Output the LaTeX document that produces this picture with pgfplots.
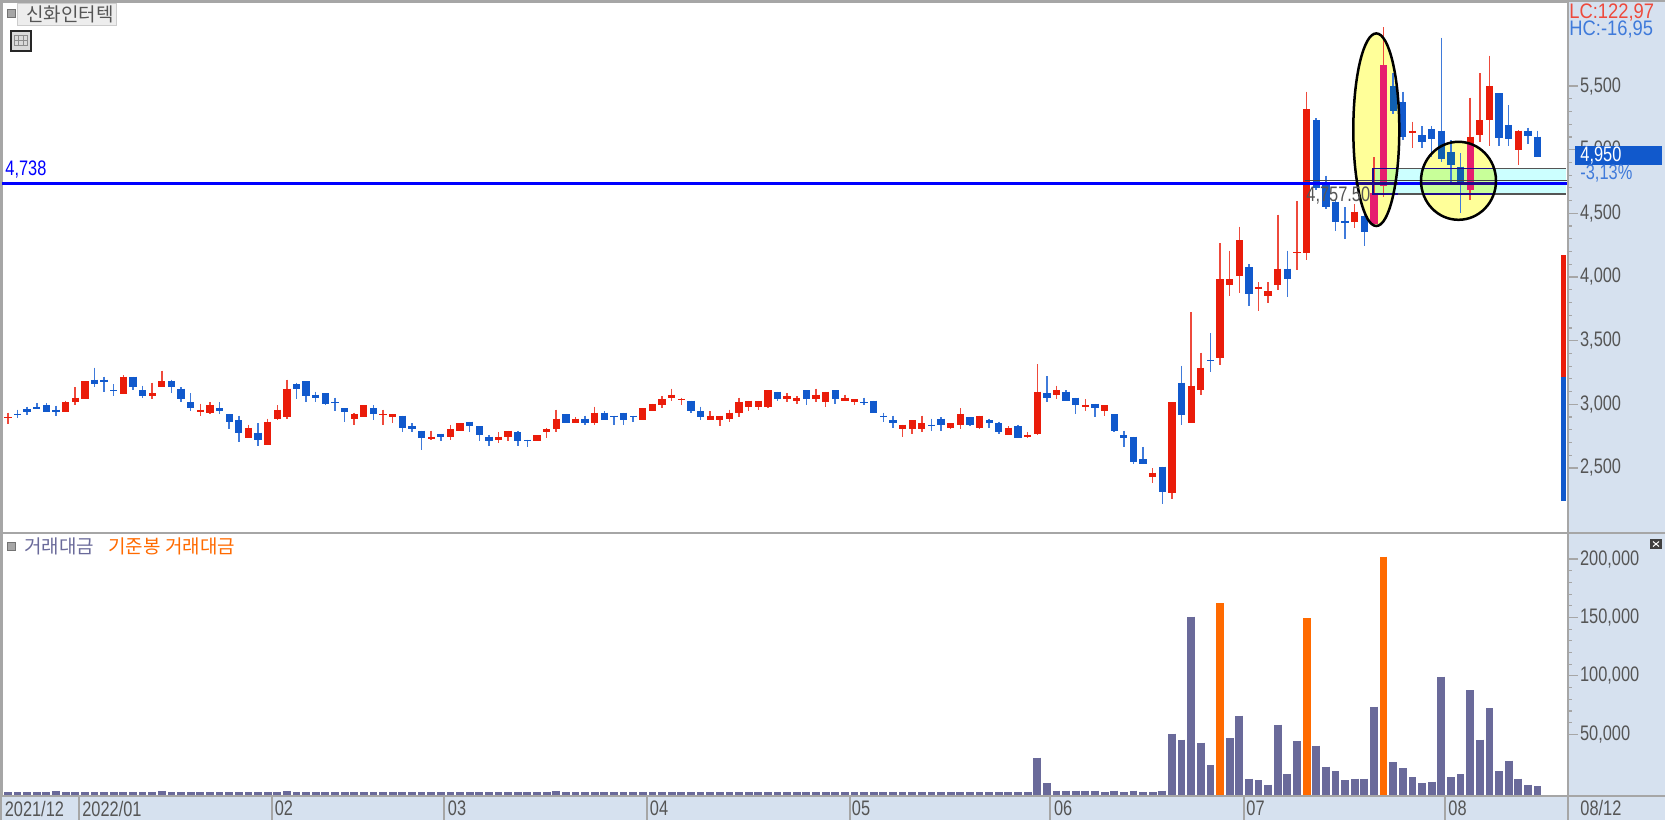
\documentclass[border=0pt]{standalone}
\usepackage{fontspec}
\usepackage{pgfplots}
\usepackage{pgfplotstable}
\pgfplotsset{compat=1.18}
\setmainfont[FakeStretch=0.78]{Liberation Sans}
\newfontfamily\cjk{Noto Sans CJK KR}
\definecolor{panel}{HTML}{D6E1EF}
\definecolor{frame}{HTML}{A6A6A6}
\definecolor{lab}{HTML}{555555}
\definecolor{cred}{HTML}{EA1C0A}
\definecolor{cblue}{HTML}{1159CC}
\definecolor{wred}{HTML}{EE4A3C}
\definecolor{wblue}{HTML}{3F7ADA}
\definecolor{cpink}{HTML}{E61E6E}
\definecolor{cteal}{HTML}{1060B0}
\definecolor{vpur}{HTML}{6A6A9A}
\definecolor{vora}{HTML}{FF6A00}
\definecolor{navy}{HTML}{1E0A8C}
\definecolor{bandc}{HTML}{CCFFFF}
\definecolor{marky}{HTML}{FFFF99}
\definecolor{markg}{HTML}{C8FF99}
\pgfplotstableread{
n hi top bot lo
1 2934 2898 2890 2843
7 3029 3015 2937 2937
8 3133 3052 3015 2994
9 3180 3180 3042 3042
13 3230 3217 3078 3078
16 3170 3086 3068 3042
17 3264 3180 3136 3136
21 3005 2958 2937 2911
22 3018 2992 2934 2924
26 2840 2814 2735 2735
28 2887 2864 2683 2678
29 2992 2958 2887 2877
30 3193 3123 2898 2887
37 2934 2921 2887 2840
38 2992 2992 2898 2898
40 2958 2921 2916 2840
41 2924 2921 2900 2853
45 2793 2746 2725 2722
47 2840 2803 2746 2722
48 2850 2850 2793 2793
52 2780 2746 2722 2699
53 2793 2793 2746 2712
56 2756 2756 2712 2712
57 2816 2803 2782 2735
58 2958 2887 2803 2782
60 2898 2887 2850 2850
62 2981 2934 2850 2840
67 2968 2968 2874 2874
68 3005 3005 2947 2947
69 3063 3039 2992 2968
70 3123 3076 3052 3029
71 3052 3042 3031 2992
74 2947 2911 2874 2874
75 2911 2911 2874 2827
76 2958 2934 2887 2864
77 3052 3015 2934 2898
78 3029 3029 2981 2947
79 3029 3029 2981 2958
80 3110 3110 2981 2968
82 3086 3065 3039 3015
83 3065 3052 3029 3005
85 3123 3076 3039 3015
86 3099 3099 3015 2981
88 3076 3052 3029 3029
89 3039 3039 3015 2992
94 2840 2840 2806 2746
95 2874 2874 2806 2769
96 2911 2850 2803 2780
99 2850 2850 2817 2803
100 2968 2921 2840 2803
102 2911 2911 2817 2803
105 2827 2817 2756 2756
107 2780 2759 2746 2735
108 3314 3099 2769 2756
110 3146 3110 3076 3039
113 3039 2992 2981 2945
115 2994 2994 2947 2911
120 2497 2463 2429 2382
122 3018 3018 2301 2254
124 3722 3146 2853 2853
125 3405 3288 3112 3076
127 4264 3981 3361 3311
128 4207 3981 3937 3853
129 4395 4288 4008 3877
131 3958 3924 3903 3735
132 3958 3887 3853 3796
133 4489 4065 3937 3900
135 4597 4196 4186 4055
136 5456 5317 4186 4133
141 4573 4513 4435 4385
143 4940 4660 4416 4416
144 5961 5665 4717 4626
147 5220 5147 5131 5010
153 5408 5102 4683 4605
154 5600 5233 5115 5063
155 5738 5500 5233 5031
158 5154 5149 5000 4880
}\redtable
\pgfplotstableread{
n hi top bot lo
2 2958 2926 2916 2890
3 2981 2960 2940 2913
4 3008 2981 2960 2960
5 3008 2992 2937 2937
6 2989 2958 2937 2911
10 3288 3193 3157 3133
11 3217 3193 3175 3099
12 3157 3112 3102 3068
14 3217 3217 3136 3112
15 3146 3110 3065 3052
18 3193 3180 3136 3086
19 3133 3123 3042 3015
20 3086 3015 2968 2945
23 3018 2968 2947 2924
24 2924 2921 2864 2806
25 2911 2874 2772 2701
27 2850 2777 2722 2675
31 3170 3157 3123 3042
32 3180 3180 3065 3015
33 3099 3076 3052 3015
34 3086 3086 3005 2992
35 3052 3018 3013 2945
36 2968 2968 2937 2864
39 2992 2968 2924 2874
42 2911 2911 2817 2782
43 2850 2830 2803 2780
44 2793 2793 2735 2641
46 2769 2769 2746 2712
49 2864 2864 2827 2780
50 2827 2827 2759 2712
51 2759 2746 2712 2675
54 2793 2780 2712 2675
55 2722 2722 2717 2665
59 2924 2921 2850 2850
61 2911 2887 2850 2840
63 2947 2934 2874 2874
64 2911 2911 2903 2840
65 2934 2934 2874 2840
66 2911 2911 2903 2864
72 3029 3029 2947 2934
73 2981 2945 2898 2874
81 3099 3099 3039 3029
84 3110 3110 3039 2992
87 3110 3110 3039 3005
90 3052 3018 3008 2992
91 3029 3029 2934 2934
92 2934 2911 2898 2864
93 2911 2874 2853 2816
97 2887 2840 2830 2793
98 2898 2887 2840 2793
101 2898 2898 2840 2827
103 2887 2874 2853 2817
104 2864 2850 2780 2769
106 2840 2827 2735 2735
109 3220 3086 3052 3015
111 3110 3099 3029 3029
112 3052 3052 2992 2921
114 3005 3005 2968 2898
116 2921 2921 2793 2782
117 2793 2756 2738 2665
118 2746 2746 2547 2534
119 2665 2568 2534 2534
121 2510 2510 2311 2217
123 3301 3170 2913 2840
126 3557 3348 3337 3254
130 4099 4076 3866 3772
134 4207 4065 3984 3843
137 5246 5233 4696 4683
138 4796 4723 4552 4531
139 4605 4592 4435 4364
140 4547 4442 4427 4301
142 4500 4479 4353 4243
145 5605 5500 5306 5280
146 5456 5372 5102 5076
148 5186 5115 5060 5010
149 5186 5160 5084 4945
150 5880 5149 4924 4906
151 5076 4982 4880 4749
152 4971 4866 4723 4505
156 5443 5443 5094 5031
157 5351 5194 5084 5031
159 5173 5149 5107 5044
160 5149 5102 4942 4940
}\bluetable
% bodies as they look under the yellow marks
\pgfplotstableread{
n top bot
143 4660 4416
144 5665 4717
153 5055 4683
}\pinktable
\pgfplotstableread{
n top bot
145 5500 5306
150 5044 4924
151 4982 4880
152 4866 4723
}\tealtable
\pgfplotstableread[row sep=\\]{
n v\\
1 200\\2 200\\3 200\\4 200\\5 200\\6 1500\\7 200\\8 200\\9 200\\10 200\\
11 200\\12 200\\13 200\\14 200\\15 200\\16 200\\17 1500\\18 200\\19 200\\20 200\\
21 200\\22 200\\23 200\\24 200\\25 200\\26 200\\27 200\\28 200\\29 200\\30 1500\\
31 200\\32 200\\33 200\\34 200\\35 200\\36 200\\37 200\\38 200\\39 200\\40 200\\
41 200\\42 200\\43 200\\44 200\\45 200\\46 200\\47 200\\48 200\\49 200\\50 200\\
51 200\\52 200\\53 200\\54 200\\55 200\\56 200\\57 200\\58 1500\\59 200\\60 200\\
61 200\\62 200\\63 200\\64 200\\65 200\\66 200\\67 200\\68 200\\69 200\\70 200\\
71 200\\72 200\\73 200\\74 200\\75 200\\76 200\\77 200\\78 200\\79 200\\80 200\\
81 200\\82 200\\83 200\\84 200\\85 200\\86 200\\87 200\\88 200\\89 200\\90 200\\
91 200\\92 200\\93 200\\94 200\\95 200\\96 200\\97 200\\98 200\\99 200\\100 200\\
101 200\\102 200\\103 200\\104 200\\105 200\\106 200\\107 200\\
108 30000\\109 8040\\110 1760\\111 1760\\112 1760\\113 1760\\114 1760\\115 340\\116 1760\\117 340\\
118 1760\\119 340\\120 340\\121 1760\\122 50550\\123 45410\\124 150690\\125 42850\\126 23450\\
128 46560\\129 65960\\130 12040\\131 10610\\132 6900\\133 58260\\134 15750\\135 43990\\
137 40280\\138 22310\\139 18310\\140 10610\\141 12040\\142 12040\\143 73660\\
145 26020\\146 20880\\147 13180\\148 8040\\149 9470\\150 99340\\151 13180\\152 15750\\153 87640\\
154 45410\\155 72230\\156 18310\\157 27440\\158 12040\\159 6900\\160 5470\\
}\voltable
\pgfplotstableread{
n v
127 162100
136 149260
144 202050
}\orangetable
\pgfplotsset{
  stick/.style={draw=none,no markers,forget plot,
    error bars/.cd,y dir=minus,y explicit,error mark=none,
    error bar style={solid,line cap=butt,#1}},
  common/.style={scale only axis,width=782.85pt,xmin=0.387,xmax=163.14,
    axis line style={draw=frame,line width=1pt},
    ytick pos=right,yticklabel pos=right,
    tick align=outside,major tick length=5pt,minor tick length=2pt,
    tick style={draw=frame,line width=0.6pt},
    tick label style={font=\fontsize{10.5}{11}\selectfont,text=lab},
    yticklabel style={anchor=west,inner xsep=1pt},
    minor y tick num=4,
    /pgf/number format/.cd,fixed,1000 sep={,},assume math mode=true,/pgfplots/.cd,
    scaled y ticks=false,clip=true},
}
\newcommand{\lab}[1]{\fontsize{10.5}{11}\selectfont #1}
\newcommand{\kor}[1]{\cjk\fontsize{9.5}{11}\selectfont #1}
\begin{document}
\begin{tikzpicture}[x=0.5pt,y=-0.5pt]
\useasboundingbox (0,0) rectangle (1665,820);
\fill[panel] (0,0) rectangle (1665,820);
\fill[white] (2,1.5) rectangle (1567.7,795.7);
% support band and the two yellow marks, beneath the candles
\fill[bandc] (1373,168.7) rectangle (1566,194);
\fill[marky] (1376.3,129.7) ellipse [x radius=23,y radius=96.3];
\fill[marky] (1458.5,180.8) ellipse [x radius=37.5,y radius=39];
\begin{scope}
  \clip (1376.3,129.7) ellipse [x radius=23,y radius=96.3];
  \fill[markg] (1373,168.7) rectangle (1566,194);
\end{scope}
\begin{scope}
  \clip (1458.5,180.8) ellipse [x radius=37.5,y radius=39];
  \fill[markg] (1373,168.7) rectangle (1566,194);
\end{scope}
\draw[lab,line width=0.75pt] (1373,168.7) -- (1566,168.7) (1373,194) -- (1566,194);

% price panel
\begin{axis}[common,at={(1pt,-0.75pt)},anchor=north west,height=265.75pt,
  ymin=1989,ymax=6164,ytick={2500,3000,3500,4000,4500,5000,5500},xtick=\empty]
\addplot[stick={draw=wred,line width=0.75pt}] table[x=n,y=hi,y error expr=\thisrow{hi}-\thisrow{lo}] {\redtable};
\addplot[stick={draw=wblue,line width=0.75pt}] table[x=n,y=hi,y error expr=\thisrow{hi}-\thisrow{lo}] {\bluetable};
\addplot[stick={draw=cred,line width=3.65pt}] table[x=n,y=top,y error expr=\thisrow{top}-\thisrow{bot}] {\redtable};
\addplot[stick={draw=cblue,line width=3.65pt}] table[x=n,y=top,y error expr=\thisrow{top}-\thisrow{bot}] {\bluetable};
\addplot[stick={draw=cpink,line width=3.65pt}] table[x=n,y=top,y error expr=\thisrow{top}-\thisrow{bot}] {\pinktable};
\addplot[stick={draw=cteal,line width=3.65pt}] table[x=n,y=top,y error expr=\thisrow{top}-\thisrow{bot}] {\tealtable};
% price-range bar at the right edge
\addplot[stick={draw=cred,line width=2.2pt}] coordinates {(162.7,4172) +- (0,955)};
\addplot[stick={draw=cblue,line width=2.2pt}] coordinates {(162.7,3217) +- (0,977)};
% reference lines
\addplot[forget plot,draw=black!75,line width=0.6pt] coordinates {(135.8,4757.5) (163.14,4757.5)};
\addplot[forget plot,draw=blue,line width=1.5pt] coordinates {(0.387,4738) (163.14,4738)};
\end{axis}

% volume panel
\begin{axis}[common,at={(1pt,-266.5pt)},anchor=north west,height=131.35pt,
  ymin=-2570,ymax=222300,ytick={50000,100000,150000,200000},
  xtick={0.387,8.45,28.45,46.45,67.45,88.45,109.45,129.45,150.45},
  xticklabels={2021/12,2022/01,02,03,04,05,06,07,08},
  xtick pos=bottom,xtick style={draw=none},
  xticklabel style={anchor=north west,inner sep=0pt,xshift=1.2pt,yshift=2.6pt}]
\addplot[stick={draw=vpur,line width=3.9pt}] table[x=n,y=v,y error expr=\thisrow{v}+2570] {\voltable};
\addplot[stick={draw=vora,line width=3.9pt}] table[x=n,y=v,y error expr=\thisrow{v}+2570] {\orangetable};
\end{axis}

% overlaid outlines
\draw[navy,line width=0.6pt] (1398,168.7) -- (1373,168.7) -- (1373,194) -- (1398,194);
\draw[navy,line width=0.6pt] (1423,168.7) -- (1494,168.7) (1423,194) -- (1494,194);
\draw[navy,line width=1.5pt] (1355,183) -- (1398,183) (1421,183) -- (1495,183);
\draw[black,line width=1.25pt] (1376.3,129.7) ellipse [x radius=23,y radius=96.3];
\draw[black,line width=1.25pt] (1458.5,180.8) ellipse [x radius=37.5,y radius=39];
\node[anchor=west,inner sep=0pt,text=lab] at (1306,196) {\lab{4,757.50}};

% frame lines
\draw[frame,line width=1pt] (0,1) -- (1665,1) (0,533) -- (1665,533) (0,795.7) -- (1665,795.7)
  (1,0) -- (1,820) (1567.7,0) -- (1567.7,820);
\foreach \s in {79.3,271.7,444,647,849.5,1050.4,1244,1445}
  \draw[frame,line width=1pt] (\s,796) -- (\s,820);

% labels
\node[anchor=west,inner sep=0pt,text=blue] at (5,170) {\lab{4,738}};
\node[anchor=west,inner sep=0pt,text=lab] at (1580,807.5) {\lab{08/12}};
\node[anchor=west,inner sep=0pt,text=wred] at (1569,12.5) {\scalebox{1.12}[1]{\lab{LC:122,97}}};
\node[anchor=west,inner sep=0pt,text=wblue] at (1569,30) {\scalebox{1.12}[1]{\lab{HC:-16,95}}};
\fill[cblue] (1574.7,145.7) rectangle (1661.7,164.7);
\node[anchor=west,inner sep=0pt,text=white] at (1580,155.2) {\lab{4,950}};
\node[anchor=west,inner sep=0pt,text=wblue] at (1580,174) {\lab{-3,13\%}};

% top-left title chip and icons
\fill[black!35] (7,9) rectangle (15,17);
\draw[black!55,line width=0.4pt] (7,9) rectangle (15,17);
\draw[black!20,fill=black!7,line width=0.5pt] (17.5,3.5) rectangle (116.5,25);
\node[anchor=center,inner sep=0pt,text=lab] at (70,14.5) {\kor{신화인터텍}};
\draw[black!85,fill=black!15,line width=1pt] (10.5,30.5) rectangle (30.5,50.5);
\draw[black!45,line width=0.4pt] (14,35) -- (27,35) (14,40) -- (27,40) (14,45) -- (27,45)
  (14,35) -- (14,46) (18.5,35) -- (18.5,46) (23,35) -- (23,46) (27,35) -- (27,46);

% volume legend and corner button
\fill[black!35] (7,542) rectangle (15,550);
\draw[black!55,line width=0.4pt] (7,542) rectangle (15,550);
\node[anchor=west,inner sep=0pt,text=vpur] at (24,546.5) {\kor{거래대금}};
\node[anchor=west,inner sep=0pt,text=vora] at (108,546.5) {\kor{기준봉 거래대금}};
\fill[black!75] (1650,539) rectangle (1661.7,549);
\draw[white,line width=0.5pt] (1653,541.5) -- (1659,546.5) (1653,546.5) -- (1659,541.5);
\end{tikzpicture}
\end{document}
